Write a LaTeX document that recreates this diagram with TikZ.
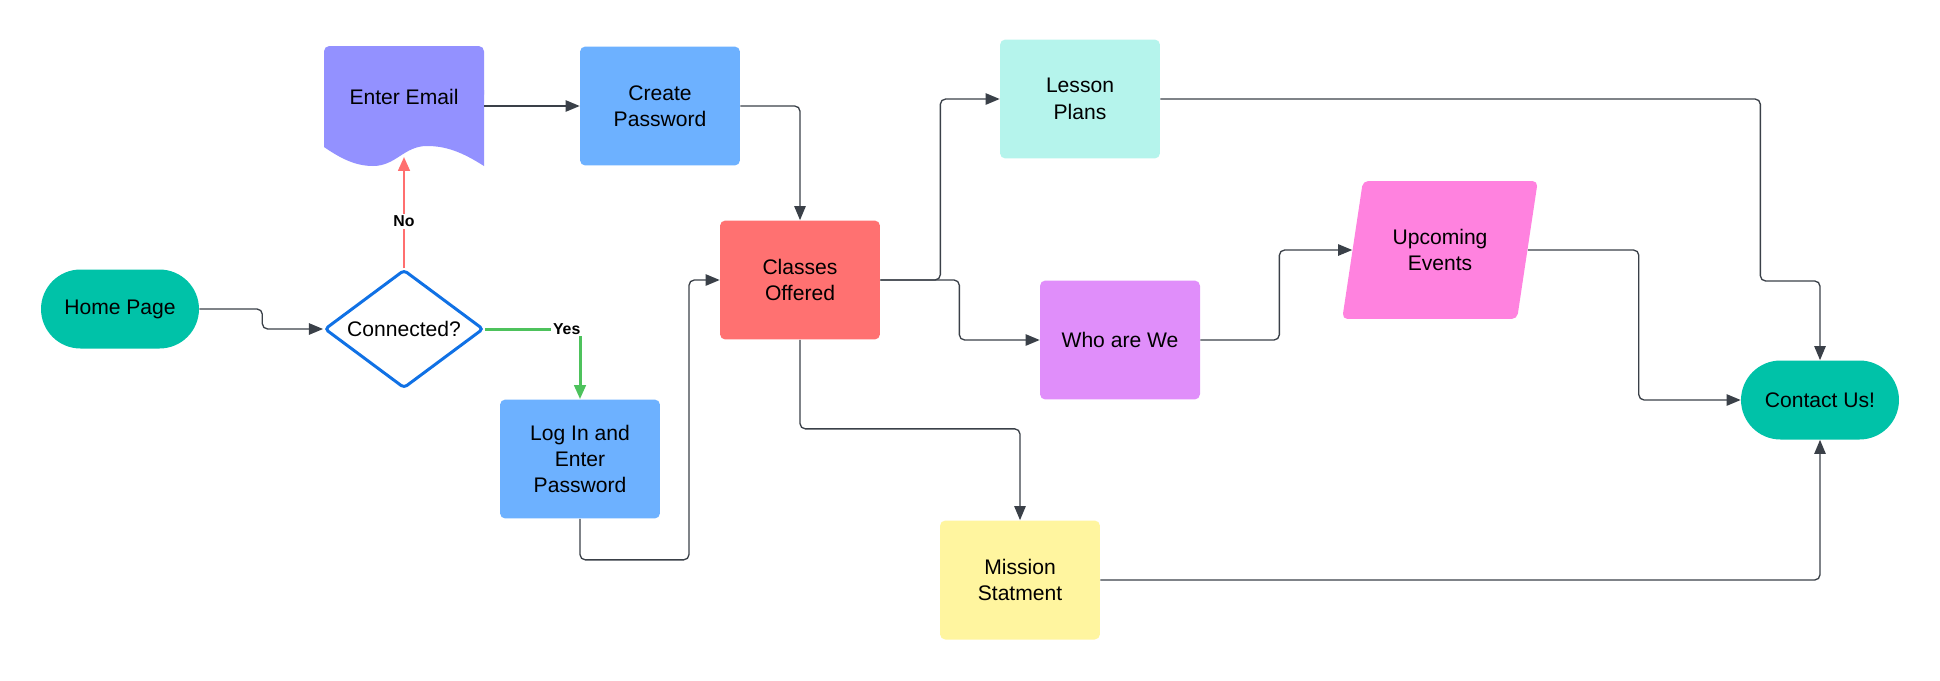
\documentclass[tikz,border=0pt]{standalone}
\usepackage{fontspec}
\setmainfont{Liberation Sans}
\usetikzlibrary{shapes.geometric,arrows.meta,calc}
\definecolor{termteal}{RGB}{0,194,168}
\definecolor{emailpurple}{RGB}{147,145,255}
\definecolor{pwblue}{RGB}{109,177,255}
\definecolor{classred}{RGB}{255,113,113}
\definecolor{lessonmint}{RGB}{181,244,236}
\definecolor{whoviolet}{RGB}{224,142,250}
\definecolor{eventpink}{RGB}{255,130,223}
\definecolor{missionyellow}{RGB}{255,245,159}
\definecolor{decblue}{RGB}{16,113,229}
\definecolor{nored}{RGB}{255,111,111}
\definecolor{yesgreen}{RGB}{77,194,92}
\definecolor{linegray}{RGB}{58,64,72}
\begin{document}
\begin{tikzpicture}[x=0.02cm,y=-0.02cm,
    every node/.style={font=\fontsize{12}{15}\selectfont,align=center},
    box/.style={rectangle,rounded corners=3pt,minimum width=3.2cm,minimum height=2.38cm,inner sep=2pt},
    term/.style={rectangle,rounded corners=0.79cm,fill=termteal,minimum width=3.16cm,minimum height=1.58cm},
    decide/.style={diamond,aspect=1.37,draw=decblue,line width=1.7pt,rounded corners=2pt,fill=white,minimum width=3.18cm,minimum height=2.37cm,inner sep=0pt},
    flow/.style={draw=linegray,line width=0.75pt,rounded corners=3pt,-{Triangle[length=8pt,width=6.5pt]}},
    branch/.style={line width=1.7pt,-{Triangle[length=8pt,width=6.5pt]}},
    tag/.style={fill=white,inner sep=1pt,font=\bfseries\fontsize{9}{10}\selectfont}]
  \useasboundingbox (0,0) rectangle (1940,680);
  \fill[emailpurple,rounded corners=3pt] (324,100) -- (324,46) -- (484,46) -- (484,100) -- cycle;
  \fill[emailpurple] (324,147) -- (324,90) -- (484,90) -- (484,166)
    .. controls (462,152) and (446,146) .. (427,146)
    .. controls (404,146) and (396,166) .. (373,166)
    .. controls (355,166) and (340,158) .. (324,147) -- cycle;
  \node[term] (home) at (120,309) {Home Page};
  \node[decide] (conn) at (404,329) {Connected?};
  \node[box,text depth=10pt] (email) at (404,106) {Enter Email};
  \node[box,fill=pwblue] (create) at (660,106) {Create\\Password};
  \node[box,fill=pwblue] (login) at (580,459) {Log In and\\Enter\\Password};
  \node[box,fill=classred] (classes) at (800,280) {Classes\\Offered};
  \node[box,fill=lessonmint] (lesson) at (1080,99) {Lesson\\Plans};
  \node[box,fill=whoviolet] (who) at (1120,340) {Who are We};
  \node[trapezium,trapezium left angle=75,trapezium right angle=105,trapezium stretches=true,
        rounded corners=3pt,fill=eventpink,minimum width=3.94cm,minimum height=2.76cm] (events) at (1440,250) {Upcoming\\Events};
  \node[box,fill=missionyellow] (mission) at (1020,580) {Mission\\Statment};
  \node[term] (contact) at (1820,400) {Contact Us!};

  \draw[flow] (home.east) -- ++(63,0) |- (conn.west);
  \draw[branch,nored] (conn.north) -- node[tag,pos=0.42,text=black]{No} ($(email.south)+(0,-9)$);
  \draw[branch,yesgreen] (conn.east) -| node[tag,pos=0.43,text=black]{Yes} (login.north);
  \draw[flow] (email.east) -- (create.west);
  \draw[flow] (create.east) -| (classes.north);
  \draw[flow] (login.south) -- ++(0,41) -- ++(109,0) |- (classes.west);
  \draw[flow] (classes.east) -- ++(60,0) |- (lesson.west);
  \draw[flow] (classes.east) -- ++(79,0) |- (who.west);
  \draw[flow] (classes.south) -- ++(0,89) -| (mission.north);
  \draw[flow] (who.east) -- ++(79,0) |- (events.west);
  \draw[flow] (events.east) -- ++(111,0) |- (contact.west);
  \draw[flow] (lesson.east) -- ++(600,0) -- ++(0,182) -| (contact.north);
  \draw[flow] (mission.east) -| (contact.south);
\end{tikzpicture}
\end{document}
